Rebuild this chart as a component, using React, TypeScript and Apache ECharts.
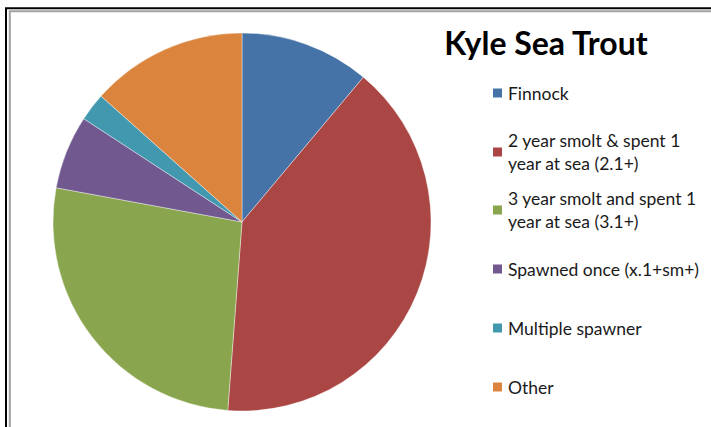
import React, { useEffect, useRef } from "react";
import * as echarts from "echarts";

// Share of each age class in the Kyle sea trout sample (%)
const categories = [
  "Finnock",
  "2 year smolt & spent 1 year at sea (2.1+)",
  "3 year smolt and spent 1 year at sea (3.1+)",
  "Spawned once (x.1+sm+)",
  "Multiple spawner",
  "Other",
];
const legendLabels = [
  "Finnock",
  "2 year smolt & spent 1\nyear at sea (2.1+)",
  "3 year smolt and spent 1\nyear at sea (3.1+)",
  "Spawned once (x.1+sm+)",
  "Multiple spawner",
  "Other",
];
const shares = [11.1, 40.1, 26.7, 6.3, 2.4, 13.4];
const colors = ["#4572A7", "#AA4643", "#89A54E", "#71588F", "#4198AF", "#DB843D"];

// vertical centre of each legend swatch
const legendCentres = [93, 152, 210, 269, 328, 387];

const FONT = "Lato, 'Liberation Sans', sans-serif";
const LINE_H = 23;

export default function App() {
  const ref = useRef<HTMLDivElement>(null);

  useEffect(() => {
    if (!ref.current) return;
    const chart = echarts.init(ref.current, undefined, { renderer: "svg" });

    const legends = categories.map((name, i) => {
      const lines = legendLabels[i].split("\n").length;
      const pad = (lines - 1) * LINE_H;
      const blockH = pad + lines * LINE_H;
      return {
        data: [name],
        left: 491,
        top: legendCentres[i] - blockH / 2,
        orient: "vertical",
        icon: "rect",
        itemWidth: 11,
        itemHeight: 11,
        selectedMode: false,
        padding: 0,
        formatter: () => legendLabels[i],
        textStyle: {
          fontFamily: FONT,
          fontSize: 17.5,
          color: "#1a1a1a",
          lineHeight: LINE_H,
          padding: [pad, 0, 0, 0],
        },
      };
    });

    chart.setOption({
      animation: false,
      color: colors,
      title: {
        text: "Kyle Sea Trout",
        left: 541,
        top: 21,
        textAlign: "center",
        textStyle: {
          fontFamily: FONT,
          fontSize: 32,
          fontWeight: "bold",
          color: "#000",
        },
      },
      legend: legends,
      graphic: [
        {
          type: "polyline",
          shape: { points: [[6, 427], [6, 8.2], [711, 8.2]] },
          style: { stroke: "#000", lineWidth: 2, fill: null },
        },
        {
          type: "polyline",
          shape: { points: [[9.8, 427], [9.8, 11.3], [711, 11.3]] },
          style: { stroke: "#a3a3a3", lineWidth: 2, fill: null },
        },
      ],
      series: [
        {
          type: "pie",
          center: [242, 222],
          radius: 189,
          startAngle: 90,
          clockwise: true,
          label: { show: false },
          labelLine: { show: false },
          emphasis: { disabled: true },
          itemStyle: { borderColor: "#ffffff", borderWidth: 0.4 },
          data: categories.map((name, i) => ({ name, value: shares[i] })),
        },
      ],
    });

    return () => chart.dispose();
  }, []);

  return (
    <div
      ref={ref}
      style={{ position: "fixed", left: 0, top: 0, width: 711, height: 427, background: "#fff" }}
    />
  );
}
